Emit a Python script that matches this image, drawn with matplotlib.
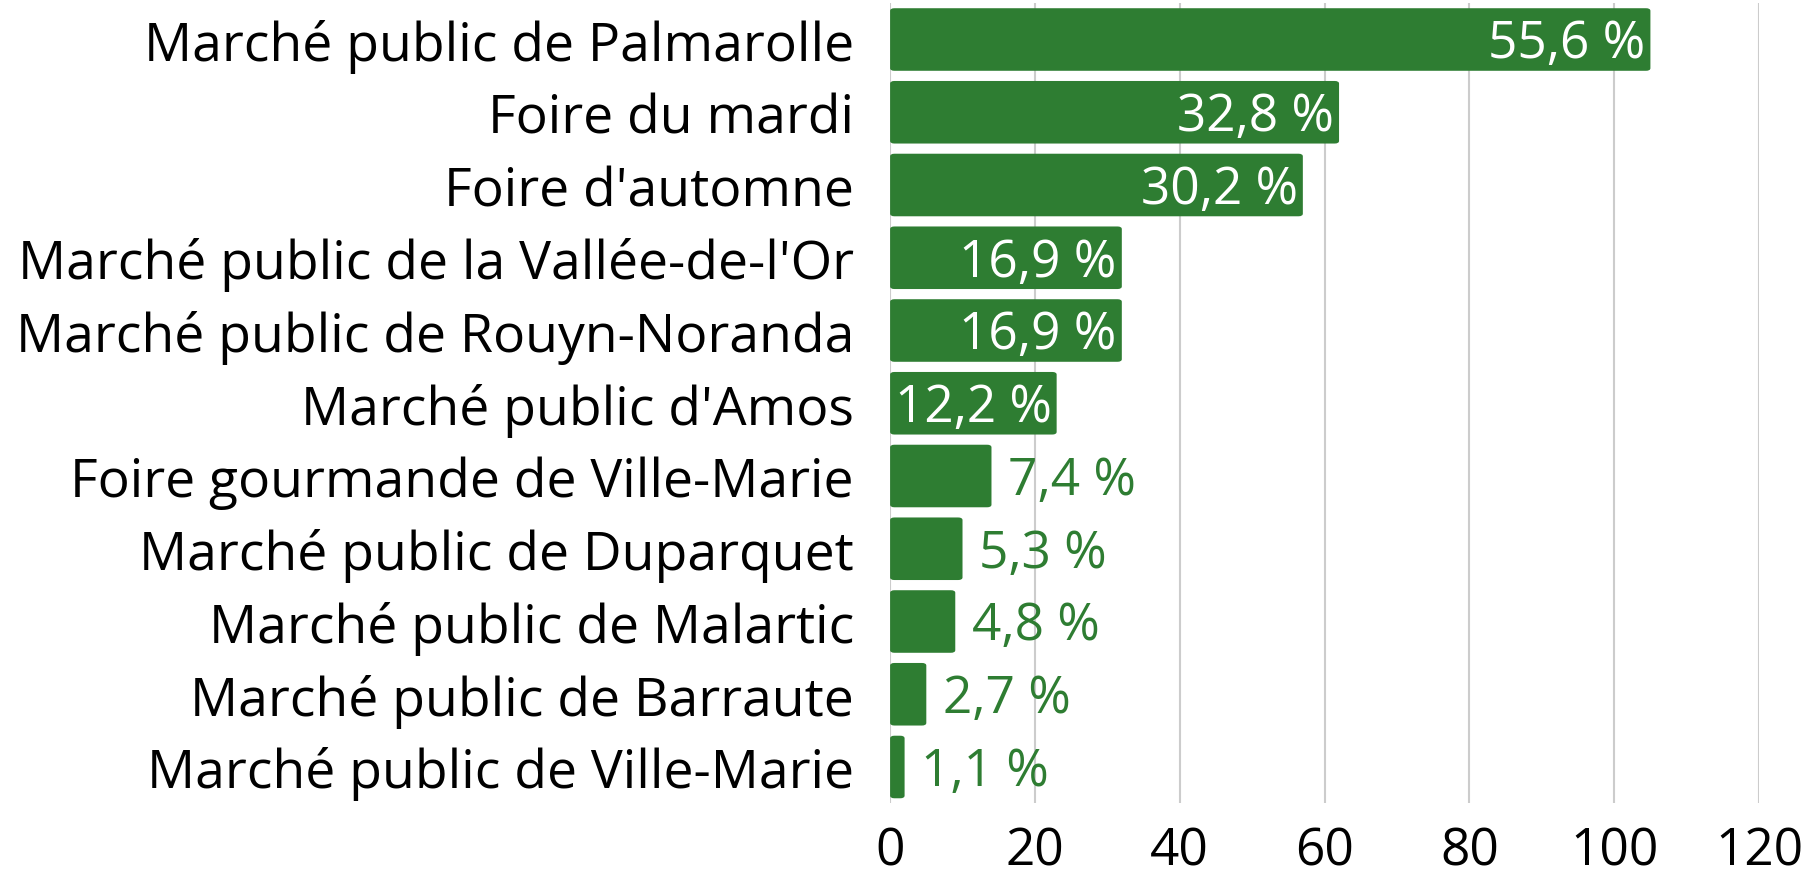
import matplotlib
matplotlib.use("Agg")
import matplotlib.pyplot as plt
from matplotlib.patches import FancyBboxPatch

plt.rcParams['font.family'] = ['Open Sans', 'DejaVu Sans']

categories = [
    "Marché public de Palmarolle",
    "Foire du mardi",
    "Foire d'automne",
    "Marché public de la Vallée-de-l'Or",
    "Marché public de Rouyn-Noranda",
    "Marché public d'Amos",
    "Foire gourmande de Ville-Marie",
    "Marché public de Duparquet",
    "Marché public de Malartic",
    "Marché public de Barraute",
    "Marché public de Ville-Marie",
]
counts = [105, 62, 57, 32, 32, 23, 14, 10, 9, 5, 2]
percent_labels = ["55,6 %", "32,8 %", "30,2 %", "16,9 %", "16,9 %", "12,2 %",
                  "7,4 %", "5,3 %", "4,8 %", "2,7 %", "1,1 %"]
xticks = [0, 20, 40, 60, 80, 100, 120]

GREEN = "#2e7d32"

fig = plt.figure(figsize=(18.11, 8.79), dpi=100)
ax = fig.add_axes([0.4915, 0.0849, 0.9713 - 0.4915, 0.9953 - 0.0849])

y = list(range(len(categories)))
bars = ax.barh(y, counts, height=0.86, color=GREEN, zorder=3)
# replace with slightly rounded bars
for b in bars:
    b.set_visible(False)
    x0, y0 = b.get_x(), b.get_y()
    w, h = b.get_width(), b.get_height()
    p = FancyBboxPatch((x0, y0), w, h,
                       boxstyle="round,pad=0,rounding_size=0.6",
                       mutation_aspect=0.06,
                       facecolor=GREEN, edgecolor="none", zorder=3)
    ax.add_patch(p)

for yi, c, lab in zip(y, counts, percent_labels):
    if c >= 20:
        ax.text(c - 0.7, yi + 0.06, lab, ha="right", va="center",
                color="white", fontsize=37, zorder=4)
    else:
        ax.text(c + 2.3, yi + 0.06, lab, ha="left", va="center",
                color=GREEN, fontsize=37, zorder=4)

ax.set_xlim(0, 120)
ax.set_ylim(len(categories) - 0.5, -0.5)
ax.set_xticks(xticks)
ax.set_xticklabels([str(t) for t in xticks], fontsize=37)
ax.set_yticks(y)
ax.set_yticklabels(categories, fontsize=38.5)
ax.tick_params(axis="both", length=0)
ax.tick_params(axis="y", pad=26)
ax.tick_params(axis="x", pad=16)
ax.xaxis.grid(True, color="#cccccc", linewidth=1.5, zorder=0)
ax.set_axisbelow(True)
for s in ax.spines.values():
    s.set_visible(False)

fig.savefig("out.png", dpi=100, facecolor="white")
